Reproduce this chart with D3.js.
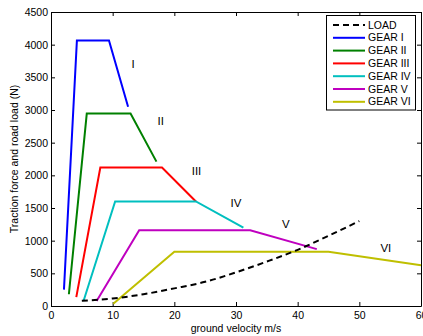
<!DOCTYPE html>
<html><head><meta charset="utf-8">
<script src="https://cdn.jsdelivr.net/npm/d3@7"></script>
<style>
html,body{margin:0;padding:0;background:#fff;}
text{font-family:"Liberation Sans",Arial,Helvetica,sans-serif;}
</style></head>
<body><svg id="c" width="423" height="336"></svg>
<script>
// ---- data ----
const loadV = [5, 10, 15, 20, 25, 30, 35, 40, 45, 50];
const loadF = [80, 115, 180, 270, 370, 515, 680, 860, 1075, 1300];

const gearNames = ["GEAR I", "GEAR II", "GEAR III", "GEAR IV", "GEAR V", "GEAR VI"];
const gearColors = ["#0000ff", "#008000", "#ff0000", "#00bfbf", "#bf00bf", "#bfbf00"];
const gear1V = [2.1, 4.2, 9.4, 12.5];
const gear1F = [250, 4065, 4065, 3050];
const gear2V = [2.9, 5.8, 12.9, 17.1];
const gear2F = [180, 2945, 2945, 2210];
const gear3V = [4.1, 8.0, 18.0, 23.5];
const gear3F = [135, 2120, 2120, 1600];
const gear4V = [5.3, 10.4, 23.5, 31.2];
const gear4F = [85, 1600, 1600, 1200];
const gear5V = [7.4, 14.3, 32.3, 43.1];
const gear5F = [75, 1160, 1160, 870];
const gear6V = [10.1, 20.0, 45.0, 60.0];
const gear6F = [35, 830, 830, 625];

const gearLabels = ["I", "II", "III", "IV", "V", "VI"];
const labelV = [13.3, 17.8, 23.6, 30.0, 38.1, 54.3];
const labelF = [3700, 2835, 2070, 1580, 1250, 895];

const xTicks = [0, 10, 20, 30, 40, 50, 60];
const yTicks = [0, 500, 1000, 1500, 2000, 2500, 3000, 3500, 4000, 4500];

const xTitle = "ground velocity m/s";
const yTitle = "Traction force and road load (N)";

// ---- layout ----
const L = 51, R = 421, T = 12, B = 306;
const svg = d3.select("#c");
const x = d3.scaleLinear().domain([0, 60]).range([L, R]);
const y = d3.scaleLinear().domain([0, 4500]).range([B, T]);
const fs = 10.5;
const fmt = d3.format("d");

// axes
const gx = svg.append("g").attr("transform", `translate(0,${B})`)
  .call(d3.axisBottom(x).tickValues(xTicks).tickFormat(fmt).tickSizeInner(-4).tickSizeOuter(0).tickPadding(6));
const gxt = svg.append("g").attr("transform", `translate(0,${T})`)
  .call(d3.axisTop(x).tickValues(xTicks).tickSizeInner(-4).tickSizeOuter(0).tickFormat(""));
const gy = svg.append("g").attr("transform", `translate(${L},0)`)
  .call(d3.axisLeft(y).tickValues(yTicks).tickFormat(fmt).tickSizeInner(-4).tickSizeOuter(0).tickPadding(3));
const gyr = svg.append("g").attr("transform", `translate(${R},0)`)
  .call(d3.axisRight(y).tickValues(yTicks).tickSizeInner(-4).tickSizeOuter(0).tickFormat(""));
[gx, gxt, gy, gyr].forEach(g => {
  g.selectAll("text").attr("font-size", fs).attr("fill", "#000")
    .attr("font-family", "'Liberation Sans',Arial,sans-serif");
  g.selectAll("path,line").attr("stroke", "#000");
  g.select(".domain").attr("stroke-width", 1);
});

// lines
const line = d3.line().x(d => x(d[0])).y(d => y(d[1]));
const gears = [[gear1V, gear1F], [gear2V, gear2F], [gear3V, gear3F], [gear4V, gear4F], [gear5V, gear5F], [gear6V, gear6F]];
gears.forEach((g, i) => {
  svg.append("path").datum(g[0].map((v, j) => [v, g[1][j]]))
    .attr("d", line).attr("fill", "none").attr("stroke", gearColors[i])
    .attr("stroke-width", 2).attr("stroke-linejoin", "miter");
});
svg.append("path").datum(loadV.map((v, j) => [v, loadF[j]]))
  .attr("d", line.curve(d3.curveMonotoneX)).attr("fill", "none").attr("stroke", "#000")
  .attr("stroke-width", 2).attr("stroke-dasharray", "6,4");

// gear labels
gearLabels.forEach((t, i) => {
  svg.append("text").attr("x", x(labelV[i])).attr("y", y(labelF[i]))
    .attr("text-anchor", "middle").attr("dy", "0.35em").attr("font-size", 11.5).text(t);
});

// titles
svg.append("text").attr("x", (L + R) / 2).attr("y", 332).attr("text-anchor", "middle")
  .attr("font-size", fs).text(xTitle);
svg.append("text").attr("transform", `translate(18,${(T + B) / 2}) rotate(-90)`)
  .attr("text-anchor", "middle").attr("font-size", fs).text(yTitle);

// legend
const lg = svg.append("g");
lg.append("rect").attr("x", 326.5).attr("y", 15.5).attr("width", 89).attr("height", 94.5)
  .attr("fill", "#fff").attr("stroke", "#000").attr("stroke-width", 1);
const legNames = ["LOAD"].concat(gearNames);
const legColors = ["#000"].concat(gearColors);
legNames.forEach((n, i) => {
  const yy = 25 + i * 12.8;
  lg.append("line").attr("x1", 333).attr("x2", 365).attr("y1", yy).attr("y2", yy)
    .attr("stroke", legColors[i]).attr("stroke-width", 2)
    .attr("stroke-dasharray", i === 0 ? "6,4" : null);
  lg.append("text").attr("x", 368).attr("y", yy).attr("dy", "0.35em")
    .attr("font-size", fs).text(n);
});
</script></body></html>
